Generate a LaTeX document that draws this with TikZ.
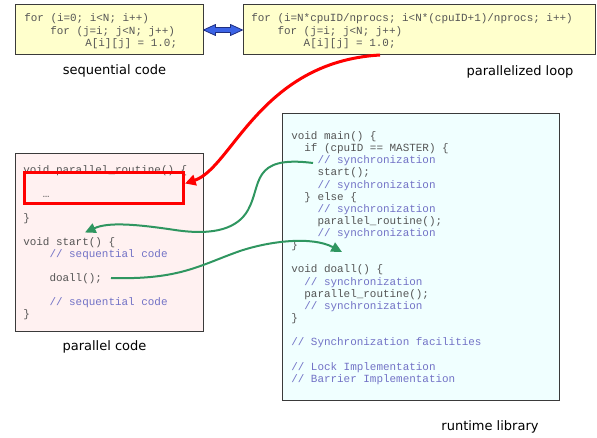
\documentclass[tikz,border=0pt]{standalone}
\usepackage{fontspec}
\setsansfont{DejaVu Sans}
\setmonofont{Liberation Mono}
\usetikzlibrary{arrows.meta,fit,calc}

\definecolor{seqfill}{HTML}{FFFFCC}
\definecolor{parfill}{HTML}{FFF1F1}
\definecolor{rtfill}{HTML}{F0FFFF}
\definecolor{boxline}{HTML}{3A3A3A}
\definecolor{codegray}{HTML}{555555}
\definecolor{cmt}{HTML}{7272C6}
\definecolor{linkgreen}{HTML}{2F9660}
\definecolor{dblblue}{HTML}{3B63E6}
\definecolor{dbledge}{HTML}{1E2E80}

\newcommand{\cm}[1]{\textcolor{cmt}{#1}}
\newcommand{\ind}[1]{\hspace*{#1\dimexpr 0.6em\relax}}

% multi-line code nodes are placed by the baseline of their last line
\tikzset{
  codebox/.style={draw=boxline, line width=0.75pt, inner sep=0pt},
  code/.style={anchor=base west, inner sep=0pt, align=left, text=codegray,
    font=\ttfamily\fontsize{8.2}{9.1}\selectfont},
  caption/.style={anchor=base, inner sep=0pt, font=\sffamily\fontsize{9.75}{11}\selectfont},
  greenlink/.style={draw=linkgreen, line width=1.5pt,
    -{Triangle[length=8pt,width=7.5pt]}},
  redlink/.style={draw=red, line width=2.25pt,
    -{Triangle[length=8pt,width=8pt]}}
}

\begin{document}
\begin{tikzpicture}[x=0.75pt,y=-0.75pt]
\useasboundingbox (0,0) rectangle (597,438);

% boxes
\node[codebox, fill=seqfill, fit={(15,5) (203,55)}] (seq) {};
\node[codebox, fill=seqfill, fit={(243,5) (595,55)}] (ploop) {};
\node[codebox, fill=parfill, fit={(15,154) (203,332)}] (pcode) {};
\node[codebox, fill=rtfill, fit={(282,114) (559,401)}] (rtlib) {};

% loop code
\node[code, font=\ttfamily\fontsize{8.2}{9.4}\selectfont] (seqtxt) at (24,46.6)
  {for (i=0; i<N; i++)\\
   \hspace*{19.5pt}for (j=i; j<N; j++)\\
   \hspace*{45.75pt}A[i][j] = 1.0;};
\node[code, font=\ttfamily\fontsize{8.2}{9.4}\selectfont] (ptxt) at (251,46.6)
  {for (i=N*cpuID/nprocs; i<N*(cpuID+1)/nprocs; i++)\\
   \ind{4}for (j=i; j<N; j++)\\
   \ind{8}A[i][j] = 1.0;};

% parallel code
\node[code, font=\ttfamily\fontsize{8.2}{9}\selectfont] (pctxt) at (23,317.5)
  {void parallel\_routine() \{\\
   \mbox{}\\
   \ind{3}…\\
   \mbox{}\\
   \}\\
   \mbox{}\\
   void start() \{\\
   \ind{4}\cm{// sequential code}\\
   \mbox{}\\
   \ind{4}doall();\\
   \mbox{}\\
   \ind{4}\cm{// sequential code}\\
   \}};

% runtime library
\node[code] (rttxt) at (291,382.2)
  {void main() \{\\
   \ind{2}if (cpuID == MASTER) \{\\
   \ind{4}\cm{// synchronization}\\
   \ind{4}start();\\
   \ind{4}\cm{// synchronization}\\
   \ind{2}\} else \{\\
   \ind{4}\cm{// synchronization}\\
   \ind{4}parallel\_routine();\\
   \ind{4}\cm{// synchronization}\\
   \}\\
   \mbox{}\\
   void doall() \{\\
   \ind{2}\cm{// synchronization}\\
   \ind{2}parallel\_routine();\\
   \ind{2}\cm{// synchronization}\\
   \}\\
   \mbox{}\\
   \cm{// Synchronization facilities}\\
   \mbox{}\\
   \cm{// Lock Implementation}\\
   \cm{// Barrier Implementation}};

% highlighted region of parallel_routine
\node[draw=red, line width=2.25pt, inner sep=0pt, fit={(24,173) (183,204)}] (redbox) {};

% captions
\node[caption] (seqcap) at (114.5,74.5) {sequential code};
\node[caption] (pcap) at (520,75.5) {parallelized loop};
\node[caption] (pccap) at (104.5,351) {parallel code};
\node[caption] (rtcap) at (490,431) {runtime library};

% two-headed block arrow between the loops
\path (seq.east) coordinate (dl) (ploop.west) coordinate (dr);
\draw[draw=dbledge, fill=dblblue, line width=0.6pt, line join=round]
  (dl) -- ($(dl)+(12,-5.5)$) -- ($(dl)+(12,-2.5)$) -- ($(dr)+(-12,-2.5)$)
  -- ($(dr)+(-12,-5.5)$) -- (dr) -- ($(dr)+(-12,5.5)$) -- ($(dr)+(-12,2.5)$)
  -- ($(dl)+(12,2.5)$) -- ($(dl)+(12,5.5)$) -- cycle;

% connector end points
\coordinate (loopsrc) at (380,55);
\coordinate (redtip) at (185,183.5);
\coordinate (syncsrc) at (313,163);
\coordinate (starttip) at (85,232.5);
\coordinate (doallsrc) at (111,278);
\coordinate (maintip) at (342,252);

% connectors
\draw[redlink] (loopsrc) .. controls (260,62) and (232,168) .. (redtip);
\draw[greenlink] (syncsrc) .. controls (250,155) and (262,185) .. (248,210)
  .. controls (238,228) and (215,236) .. (175,230)
  .. controls (135,224) and (108,222) .. (starttip);
\draw[greenlink] (doallsrc) .. controls (180,280) and (200,265) .. (240,251)
  .. controls (270,241) and (312,236) .. (maintip);
\end{tikzpicture}
\end{document}
